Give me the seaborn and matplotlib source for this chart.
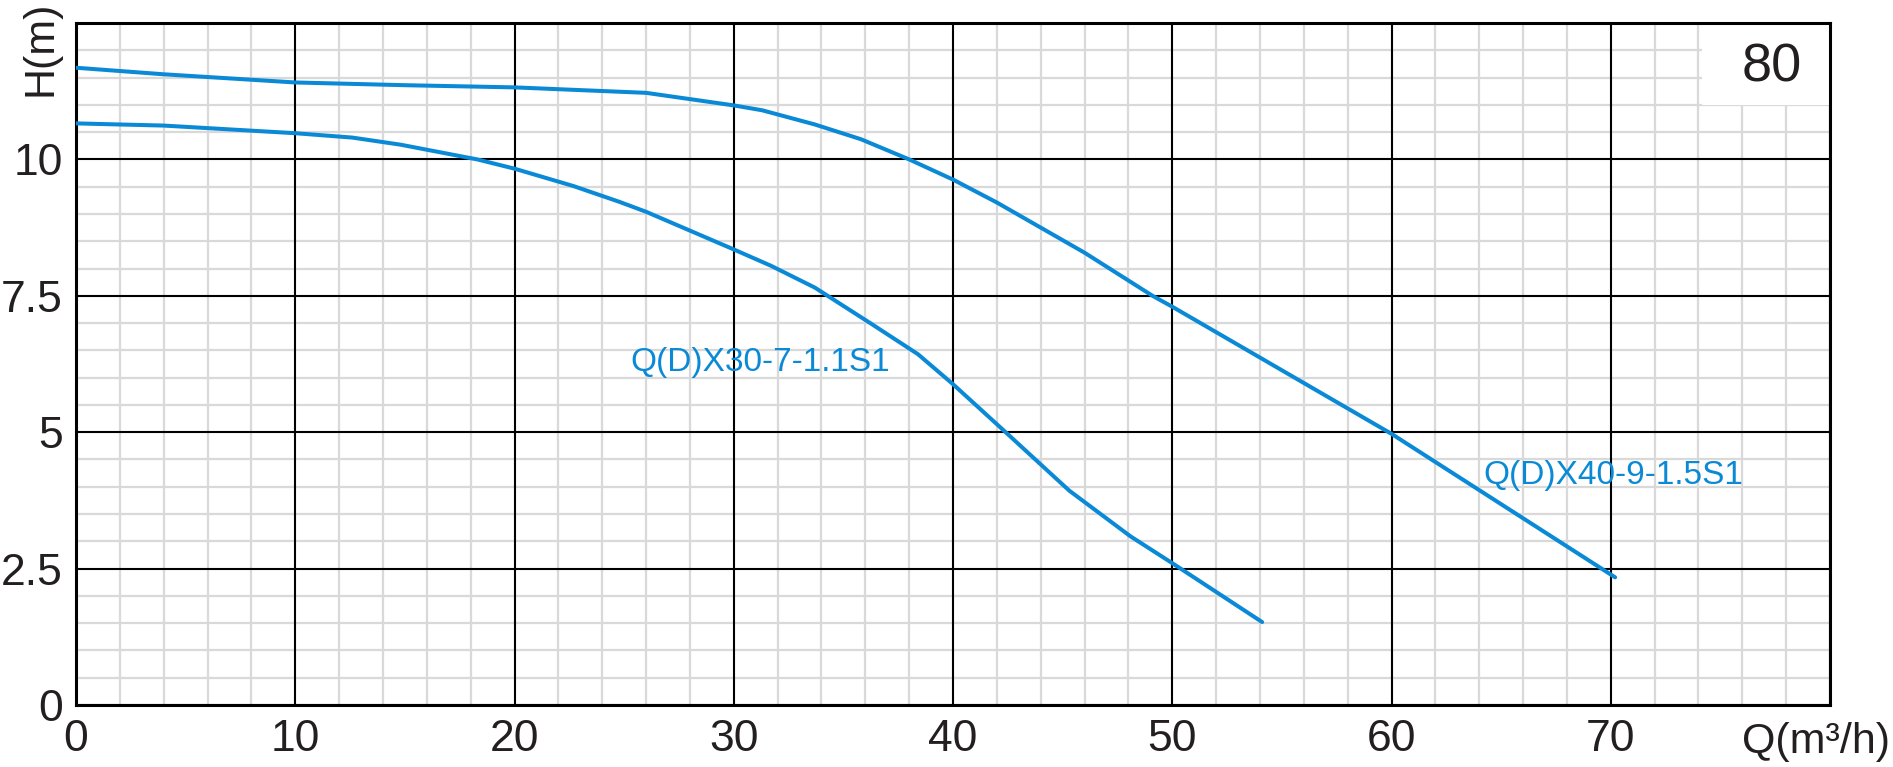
import numpy as np
import pandas as pd
import matplotlib
matplotlib.use("Agg")
import matplotlib.pyplot as plt
from matplotlib.patches import Rectangle
from matplotlib.ticker import MultipleLocator
import seaborn as sns

# ---- data ----
model_a = "Q(D)X40-9-1.5S1"
q_a = [0, 4, 10, 15, 20, 26, 30, 31.3, 33.7, 35.8, 38, 40, 42, 44, 46, 49.1, 50, 60, 70.2]
h_a = [11.68, 11.56, 11.41, 11.36, 11.32, 11.22, 10.99, 10.9, 10.64, 10.37, 10.0,
       9.63, 9.21, 8.75, 8.29, 7.5, 7.30, 4.97, 2.34]

model_b = "Q(D)X30-7-1.1S1"
q_b = [0, 4, 10, 12.6, 14.8, 18.3, 20, 22.7, 24.8, 26, 30, 31.7, 33.7, 36.3, 38.4,
       40, 42.4, 45.3, 48.1, 50, 54.1]
h_b = [10.66, 10.62, 10.48, 10.40, 10.27, 10.0, 9.83, 9.51, 9.22, 9.04, 8.35, 8.05,
       7.65, 6.98, 6.43, 5.88, 5.0, 3.93, 3.09, 2.60, 1.52]

x_major = [0, 10, 20, 30, 40, 50, 60, 70, 80]
y_major = [0, 2.5, 5, 7.5, 10, 12.5]
x_ticklabels = ["0", "10", "20", "30", "40", "50", "60", "70", ""]
y_ticklabels = ["0", "2.5", "5", "7.5", "10", ""]
size_label = "80"
x_title = "Q(m³/h)"
y_title = "H(m)"

df = pd.concat([
    pd.DataFrame({"Q": q_a, "H": h_a, "model": model_a}),
    pd.DataFrame({"Q": q_b, "H": h_b, "model": model_b}),
], ignore_index=True)

# ---- styling ----
sns.set_theme(style="white")
plt.rcParams["font.family"] = ["Liberation Sans", "DejaVu Sans"]
blue = "#0a8ad6"
txt = "#231f20"

W, H = 1893, 767
fig = plt.figure(figsize=(W / 100, H / 100), dpi=100)
ax = fig.add_axes([76 / W, 1 - 705 / H, (1830 - 76) / W, (705 - 23) / H])

sns.lineplot(data=df, x="Q", y="H", hue="model", palette=[blue, blue],
             sort=False, estimator=None, linewidth=2.9, legend=False, ax=ax, zorder=5)

ax.set_xlim(0, 80)
ax.set_ylim(0, 12.5)
ax.set_xticks(x_major)
ax.set_xticklabels(x_ticklabels)
ax.set_yticks(y_major)
ax.set_yticklabels(y_ticklabels)
ax.xaxis.set_minor_locator(MultipleLocator(2))
ax.yaxis.set_minor_locator(MultipleLocator(0.5))
ax.grid(which="minor", color="#d9d9d9", linewidth=1.6, zorder=0.5)
ax.grid(which="major", visible=False)
ax.set_axisbelow(True)
for xv in x_major:
    ax.axvline(xv, color="black", linewidth=1.5, zorder=0.8)
for yv in y_major:
    ax.axhline(yv, color="black", linewidth=1.5, zorder=0.8)

# white box behind the size label
ax.add_patch(Rectangle((74.15, 11), 6, 1.5, facecolor="white", edgecolor="none", zorder=0.9))
ax.text(77.35, 11.68, size_label, fontsize=39, color=txt, ha="center", va="center", zorder=6)

ax.tick_params(axis="both", which="minor", length=0)
ax.tick_params(axis="both", which="major", labelsize=32, labelcolor=txt,
               color="black", width=2.0)
ax.tick_params(axis="x", which="major", length=10.8, pad=-1.0)
ax.tick_params(axis="y", which="major", length=16.5, pad=-7.2)
for i, t in enumerate(ax.xaxis.get_major_ticks()):
    t.tick2line.set_visible(False)
    if i > 0:
        t.tick1line.set_visible(False)
for i, t in enumerate(ax.yaxis.get_major_ticks()):
    t.tick2line.set_visible(False)
    if i > 0:
        t.tick1line.set_visible(False)

for s in ax.spines.values():
    s.set_color("black")
    s.set_linewidth(2.2)
    s.set_visible(True)
ax.set_xlabel("")
ax.set_ylabel("")

ax.text(25.3, 6.28, model_b, fontsize=24, color=blue, ha="left", va="center", zorder=6)
ax.text(64.2, 4.2, model_a, fontsize=24, color=blue, ha="left", va="center", zorder=6)

fig.text(1890 / W, 1 - 742 / H, x_title, fontsize=31, color=txt, ha="right", va="center")
fig.text(40 / W, 1 - 48 / H, y_title, fontsize=31, color=txt, ha="center", va="center",
         rotation=90)

fig.savefig("out.png", dpi=100, facecolor="white")
